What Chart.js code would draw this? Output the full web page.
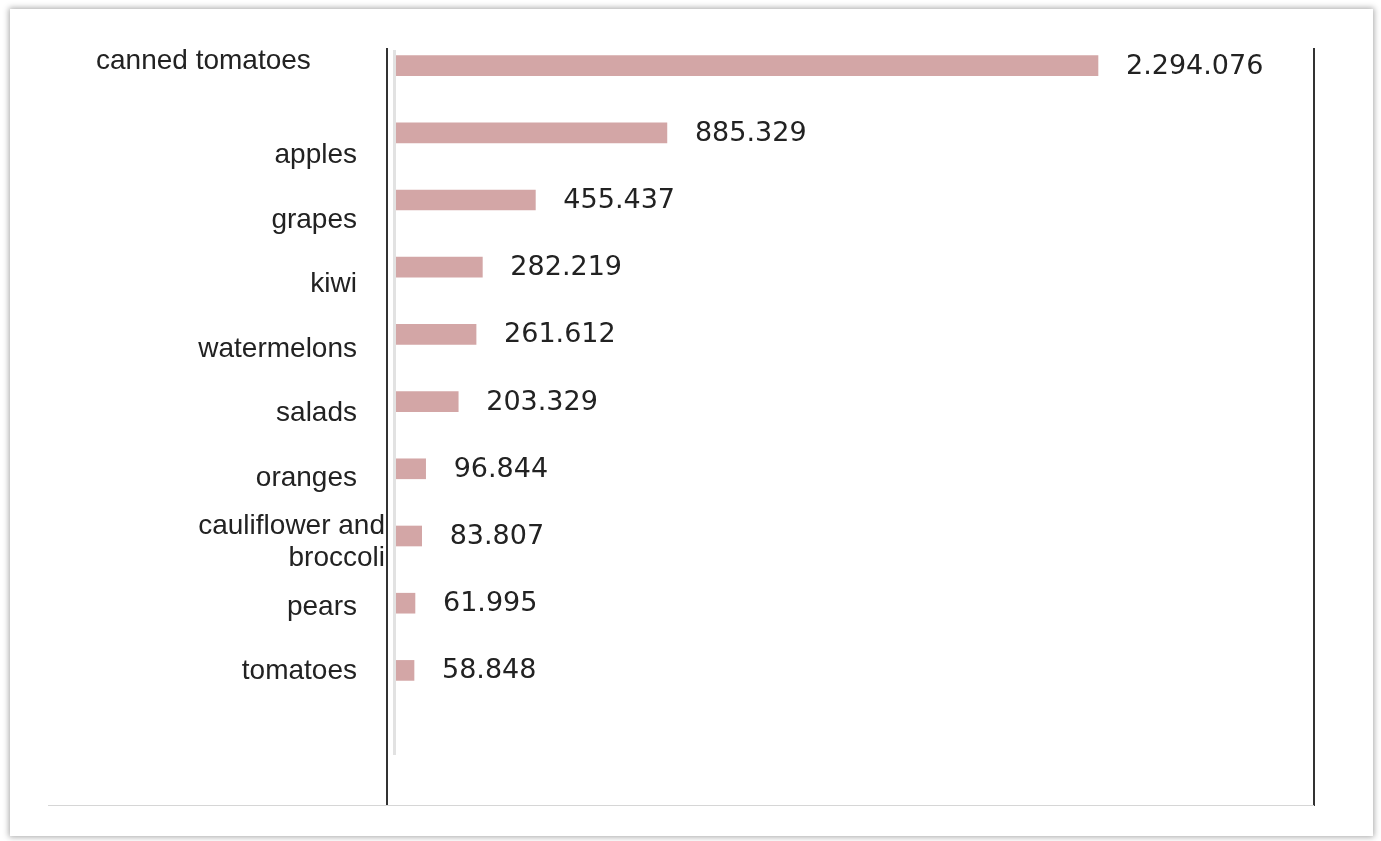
<!DOCTYPE html>
<html>
<head>
<meta charset="utf-8">
<script src="https://cdn.jsdelivr.net/npm/chart.js@4/dist/chart.umd.min.js"></script>
<style>
  html, body { margin: 0; padding: 0; background: #fff; }
  .card {
    position: absolute; left: 10px; top: 9px; width: 1363px; height: 827px;
    background: #fff; box-shadow: 0 0 6px 1px rgba(0,0,0,0.35);
  }
  .rule { position: absolute; }
  #leftRule  { left: 386px; top: 48px; width: 2px; height: 758px; background: #333; }
  #rightRule { left: 1313px; top: 48px; width: 2px; height: 758px; background: #333; }
  #baseRule  { left: 48px; top: 805px; width: 1266px; height: 1px; background: #d6d6d6; }
  #axisRule  { left: 393px; top: 50px; width: 3px; height: 705px; background: #e2e2e2; }
  #wrap { position: absolute; left: 0; top: 0; width: 1381px; height: 841px; }
</style>
</head>
<body>
<div class="card"></div>
<div class="rule" id="axisRule"></div>
<div class="rule" id="leftRule"></div>
<div class="rule" id="rightRule"></div>
<div class="rule" id="baseRule"></div>
<div id="wrap"><canvas id="myChart" width="1381" height="841"></canvas></div>

<script>
// products and how many were sold
var products = [
  'canned tomatoes', 'apples', 'grapes', 'kiwi', 'watermelons', 'salads',
  'oranges', ['cauliflower and', 'broccoli'], 'pears', 'tomatoes'
];
var quantities = [2294076, 885329, 455437, 282219, 261612, 203329, 96844, 83807, 61995, 58848];
var axisMax = 3000000;

// 1234567 -> 1.234.567
function formatDots(n) {
  return String(n).replace(/\B(?=(\d{3})+(?!\d))/g, '.');
}

// draws the product names and the value next to each bar
var labelPlugin = {
  id: 'labels',
  afterDatasetsDraw: function(chart) {
    var ctx = chart.ctx;
    var yScale = chart.scales.y;
    var bars = chart.getDatasetMeta(0).data;
    ctx.save();

    // values
    ctx.font = '27px "DejaVu Sans"';
    ctx.fillStyle = '#222';
    ctx.textAlign = 'left';
    ctx.textBaseline = 'middle';
    for (var i = 0; i < bars.length; i++) {
      ctx.fillText(formatDots(quantities[i]), bars[i].x + 28, bars[i].y + 1);
    }

    // names sit a bit below their bars and drift up toward the bottom
    ctx.font = '28px "Liberation Sans", Arial, sans-serif';
    ctx.fillStyle = '#222';
    for (var j = 0; j < products.length; j++) {
      var b = yScale.getPixelForValue(j);
      var name = products[j];
      if (j === 0) {
        ctx.textAlign = 'left';
        ctx.fillText(name, 96, b - 4);
        continue;
      }
      var y = 0.96 * b + 28;
      if (Array.isArray(name)) {
        ctx.textAlign = 'right';
        ctx.fillText(name[0], 385, y - 16);
        ctx.fillText(name[1], 385, y + 16);
      } else {
        ctx.textAlign = 'right';
        ctx.fillText(name, 357, y);
      }
    }
    ctx.restore();
  }
};

var ctx = document.getElementById('myChart');
var myChart = new Chart(ctx, {
  type: 'bar',
  data: {
    labels: products,
    datasets: [{
      data: quantities,
      backgroundColor: '#d3a6a6',
      borderWidth: 0,
      barThickness: 20
    }]
  },
  options: {
    indexAxis: 'y',
    responsive: false,
    animation: false,
    events: [],
    layout: { padding: { left: 396, right: 67, top: 32, bottom: 137 } },
    plugins: { legend: { display: false }, tooltip: { enabled: false } },
    scales: {
      x: { display: false, min: 0, max: axisMax },
      y: { display: false, offset: true }
    }
  },
  plugins: [labelPlugin]
});
</script>
</body>
</html>
